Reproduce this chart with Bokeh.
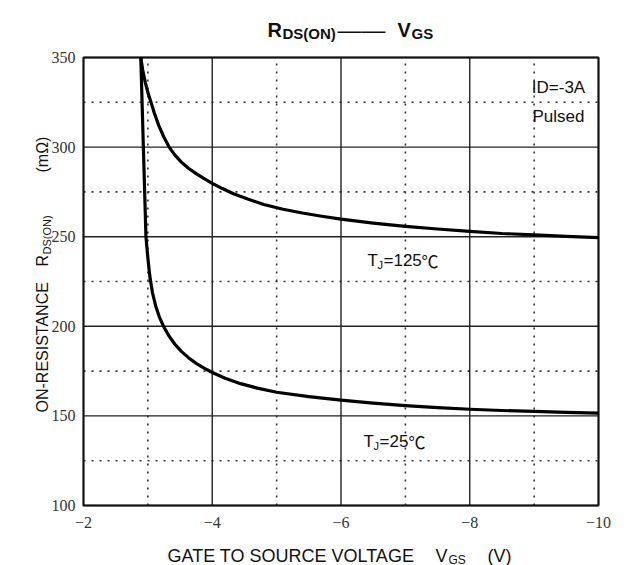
import math
from bokeh.plotting import figure
from bokeh.models import Range1d, Label, ColumnDataSource
from bokeh.core.properties import value
from bokeh.embed import file_html
from bokeh.resources import INLINE

# ---------------- data ----------------
vgs_25 = [-2.89, -2.93, -2.97, -3.00, -3.03, -3.07, -3.12, -3.18, -3.25, -3.33, -3.42, -3.52,
          -3.63, -3.75, -3.88, -4.0, -4.2, -4.44, -4.7, -5.0, -5.5, -6.0, -6.5, -7.0,
          -7.5, -8.0, -8.5, -9.0, -9.5, -10.0]
rds_25 = [350, 300, 250, 238, 228, 219, 211.5, 205, 199.5, 194.5, 190, 186,
          182.5, 179.3, 176.5, 174.2, 171, 168, 165.5, 163.2, 160.8, 158.8, 157.1, 155.7,
          154.6, 153.7, 153.0, 152.5, 152.0, 151.5]

vgs_125 = [-2.89, -2.92, -2.96, -3.00, -3.04, -3.10, -3.17, -3.25, -3.33, -3.42, -3.52, -3.63,
           -3.75, -3.88, -4.0, -4.15, -4.33, -4.55, -4.8, -5.1, -5.4, -5.7, -6.0, -6.5,
           -7.0, -7.5, -8.0, -8.5, -9.0, -9.5, -10.0]
rds_125 = [350, 343, 336, 330.5, 326, 319, 312, 305.5, 300, 295.5, 291.6, 288.2,
           285.2, 282.3, 279.8, 277, 274, 271, 268, 265.3, 263.2, 261.4, 259.8, 257.6,
           255.8, 254.3, 253, 251.8, 251, 250.2, 249.5]

x_major = [-2, -4, -6, -8, -10]
x_minor = [-3, -5, -7, -9]
x_tick_labels = ["\u22122", "\u22124", "\u22126", "\u22128", "\u221210"]
y_major = [100, 150, 200, 250, 300, 350]
y_minor = [125, 175, 225, 275, 325]
y_tick_labels = ["100", "150", "200", "250", "300", "350"]

X0, X1 = -2, -10
Y0, Y1 = 100, 350

# ---------------- geometry (page pixels) ----------------
W, H = 629, 565
PL, PT, PR, PB = 83, 57, 598, 505  # plot box edges


def dx(px):
    return X0 + (px - PL) * (X1 - X0) / (PR - PL)


def dy(py):
    return Y1 - (py - PT) * (Y1 - Y0) / (PB - PT)


p = figure(width=W, height=H, x_range=Range1d(dx(0), dx(W)), y_range=Range1d(dy(H), dy(0)),
           output_backend="svg", toolbar_location=None, title=None,
           x_axis_location=None, y_axis_location=None,
           min_border=0, min_border_left=0, min_border_right=0,
           min_border_top=0, min_border_bottom=0)
p.background_fill_color = "white"
p.border_fill_color = "white"
p.outline_line_color = None
p.grid.visible = False

# grid lines
minor_x = ColumnDataSource(dict(x=x_minor, y0=[Y0] * len(x_minor), y1=[Y1] * len(x_minor)))
minor_y = ColumnDataSource(dict(y=y_minor, x0=[X0] * len(y_minor), x1=[X1] * len(y_minor)))
major_x = ColumnDataSource(dict(x=x_major, y0=[Y0] * len(x_major), y1=[Y1] * len(x_major)))
major_y = ColumnDataSource(dict(y=y_major, x0=[X0] * len(y_major), x1=[X1] * len(y_major)))

dot = dict(line_color="#333333", line_width=1.6, line_dash="2 6")
p.segment(x0="x", y0="y0", x1="x", y1="y1", source=minor_x, **dot)
p.segment(x0="x0", y0="y", x1="x1", y1="y", source=minor_y, **dot)
sol = dict(line_color="#222222", line_width=1.4)
p.segment(x0="x", y0="y0", x1="x", y1="y1", source=major_x, **sol)
p.segment(x0="x0", y0="y", x1="x1", y1="y", source=major_y, **sol)
p.quad(left=[X0], right=[X1], bottom=[Y0], top=[Y1], fill_color=None,
       line_color="#111111", line_width=2)

# tick labels
xt = ColumnDataSource(dict(x=x_major, y=[dy(516)] * len(x_major), t=x_tick_labels))
yt = ColumnDataSource(dict(x=[dx(75)] * len(y_major), y=y_major, t=y_tick_labels))
p.text(x="x", y="y", text="t", source=xt, text_font=value("Liberation Serif"),
       text_font_size="16px", text_color="#333333", text_align="center", text_baseline="top")
p.text(x="x", y="y", text="t", source=yt, text_font=value("Liberation Serif"),
       text_font_size="16px", text_color="#333333", text_align="right", text_baseline="middle")

# curves
p.line(vgs_125, rds_125, line_color="black", line_width=3.2, line_join="round")
p.line(vgs_25, rds_25, line_color="black", line_width=3.2, line_join="round")


# ---------------- texts ----------------
def txt(px, py, s, size, bold=False, align="left", angle=0.0,
        font="Liberation Sans", color="#111111"):
    p.add_layout(Label(x=dx(px), y=dy(py), text=s, text_font=font,
                       text_font_size=f"{size}px",
                       text_font_style="bold" if bold else "normal",
                       text_align=align, text_baseline="alphabetic",
                       angle=angle, text_color=color))


# title
txt(267, 29, "R", 20, bold=True)
txt(282, 33, "DS(ON)", 15, bold=True)
txt(337, 29, "\u2014\u2014", 24)
txt(397, 29, "V", 20, bold=True)
txt(411, 33, "GS", 15, bold=True)

# x axis label
txt(167, 555, "GATE TO SOURCE VOLTAGE", 18)
txt(435, 555, "V", 18)
txt(448, 559, "GS", 12)
txt(487, 555, "(V)", 18)

# y axis label (rotated, reads upward)
up = math.pi / 2
txt(42, 412, "ON-RESISTANCE", 16, angle=up)
txt(42, 266, "R", 16, angle=up)
txt(46, 254, "DS(ON)", 11, angle=up)
txt(42, 172, "(m\u03a9)", 16, angle=up)

# curve labels
txt(367, 260, "T", 17)
txt(377, 264, "J", 11)
txt(383, 260, "=125", 17)
txt(421, 260, "\u2103", 17, font="Noto Sans CJK SC")
txt(363, 441, "T", 17)
txt(373, 445, "J", 11)
txt(379, 441, "=25", 17)
txt(408, 441, "\u2103", 17, font="Noto Sans CJK SC")

# condition note
txt(558, 87, "ID=-3A", 17, align="center")
txt(558, 116, "Pulsed", 17, align="center")

open("out.html", "w").write(file_html(p, INLINE))
